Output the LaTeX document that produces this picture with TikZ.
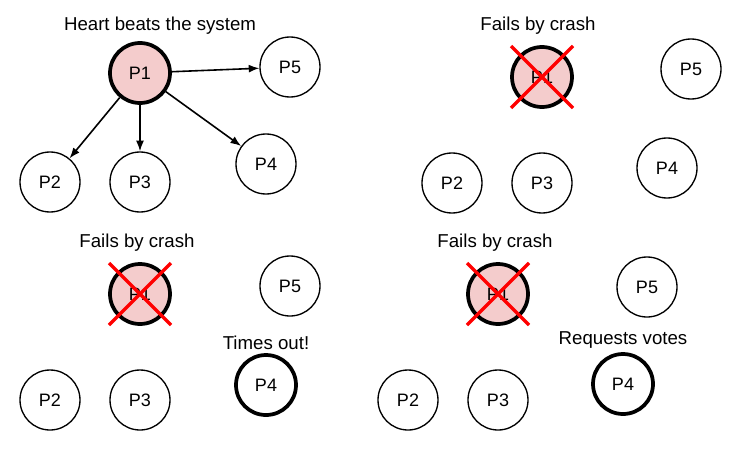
\documentclass[tikz,border=0pt]{standalone}
\usepackage{fontspec}
\setmainfont{Liberation Sans}
\usetikzlibrary{positioning,arrows.meta}
\definecolor{pinkfill}{HTML}{F4CCCC}

\begin{document}
\begin{tikzpicture}[x=0.75pt,y=-0.75pt,
  proc/.style={circle,draw,line width=1pt,minimum size=45pt,inner sep=0pt,font=\fontsize{13.5}{16}\selectfont},
  leader/.style={proc,line width=2.8pt,fill=pinkfill},
  cand/.style={proc,line width=2.8pt},
  crash/.style={draw=red,line width=2.4pt},
  beat/.style={-{Latex[length=8pt,width=6pt]},line width=1.2pt},
  lbl/.style={font=\fontsize{14}{16}\selectfont}]
\useasboundingbox (0,0) rectangle (739,454);

% heartbeat
\node[lbl] (t1) at (160,26) {Heart beats the system};
\node[leader] (a1) at (140,73) {P1};
\node[proc] (a5) at (290,67) {P5};
\node[proc] (a2) at (50,182) {P2};
\node[proc] (a3) at (140,182) {P3};
\node[proc] (a4) at (266,164) {P4};
\foreach \n in {2,...,5}
 \draw[beat] (a1) -- (a\n);

% leader crashes
\node[lbl] (t2) at (538,26) {Fails by crash};
\node[leader] (b1) at (542,77) {P1};
\node[proc] (b5) at (691,69) {P5};
\node[proc] (b2) at (452,183) {P2};
\node[proc] (b3) at (542,183) {P3};
\node[proc] (b4) at (667,168) {P4};
\draw[crash] (b1.center) ++(-31,-31) -- ++(62,62);
\draw[crash] (b1.center) ++(31,-31) -- ++(-62,62);

% timeout
\node[lbl] (t3) at (137,243) {Fails by crash};
\node[leader] (c1) at (140,294) {P1};
\node[proc] (c5) at (290,286) {P5};
\node[proc] (c2) at (50,400) {P2};
\node[proc] (c3) at (140,400) {P3};
\node[cand] (c4) at (266,385) {P4};
\node[lbl,above=-1pt of c4] (t4) {Times out!};
\draw[crash] (c1.center) ++(-31,-31) -- ++(62,62);
\draw[crash] (c1.center) ++(31,-31) -- ++(-62,62);

% election
\node[lbl] (t5) at (495,243) {Fails by crash};
\node[leader] (d1) at (498,294) {P1};
\node[proc] (d5) at (647,287) {P5};
\node[proc] (d2) at (408,400) {P2};
\node[proc] (d3) at (498,400) {P3};
\node[cand] (d4) at (623,384) {P4};
\node[lbl,above=-1pt of d4] (t6) {Requests votes};
\draw[crash] (d1.center) ++(-31,-31) -- ++(62,62);
\draw[crash] (d1.center) ++(31,-31) -- ++(-62,62);
\end{tikzpicture}
\end{document}
